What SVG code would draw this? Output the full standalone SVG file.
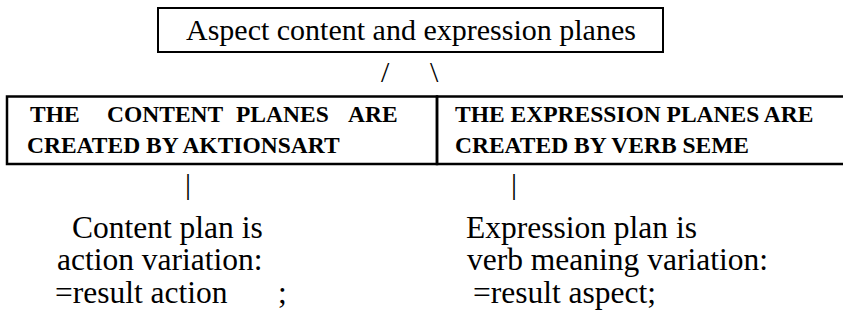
<svg xmlns="http://www.w3.org/2000/svg" width="843" height="328" viewBox="0 0 843 328">
  <rect x="0" y="0" width="843" height="328" fill="#fff"/>

  <g id="node-aspect">
    <rect x="158" y="8" width="505" height="44" fill="none" stroke="#000" stroke-width="2"/>
    <text x="186" y="40" font-size="30" font-family="Liberation Serif">Aspect content and expression planes</text>
  </g>

  <g id="node-content-planes">
    <rect x="7" y="96.5" width="430" height="67.5" fill="none" stroke="#000" stroke-width="2.5"/>
    <text x="30" y="122" font-size="23.5" font-weight="bold" font-family="Liberation Serif">THE<tspan x="107">CONTENT</tspan><tspan x="236">PLANES</tspan><tspan x="348">ARE</tspan></text>
    <text x="27" y="153" font-size="23.5" font-weight="bold" font-family="Liberation Serif">CREATED BY AKTIONSART</text>
  </g>

  <g id="node-expression-planes">
    <rect x="437" y="96.5" width="410" height="67.5" fill="none" stroke="#000" stroke-width="2.5"/>
    <text x="455" y="122" font-size="23.5" font-weight="bold" font-family="Liberation Serif">THE EXPRESSION PLANES ARE</text>
    <text x="455" y="153" font-size="23.5" font-weight="bold" font-family="Liberation Serif">CREATED BY VERB SEME</text>
  </g>

  <g id="connectors">
    <text x="381" y="82" font-size="30" font-family="Liberation Serif">/</text>
    <text x="430" y="82" font-size="30" font-family="Liberation Serif">\</text>
    <text x="185" y="194" font-size="30" font-family="Liberation Serif">|</text>
    <text x="511" y="194" font-size="30" font-family="Liberation Serif">|</text>
  </g>

  <g id="node-content-plan">
    <text x="72" y="238" font-size="31.5" font-family="Liberation Serif">Content plan is</text>
    <text x="57" y="270" font-size="31.5" font-family="Liberation Serif">action variation:</text>
    <text x="55" y="303" font-size="31.5" font-family="Liberation Serif">=result action<tspan x="278">;</tspan></text>
  </g>

  <g id="node-expression-plan">
    <text x="466" y="238" font-size="31.5" font-family="Liberation Serif">Expression plan is</text>
    <text x="467" y="270" font-size="31.5" font-family="Liberation Serif">verb meaning variation:</text>
    <text x="473" y="303" font-size="31.5" font-family="Liberation Serif">=result aspect;</text>
  </g>
</svg>
